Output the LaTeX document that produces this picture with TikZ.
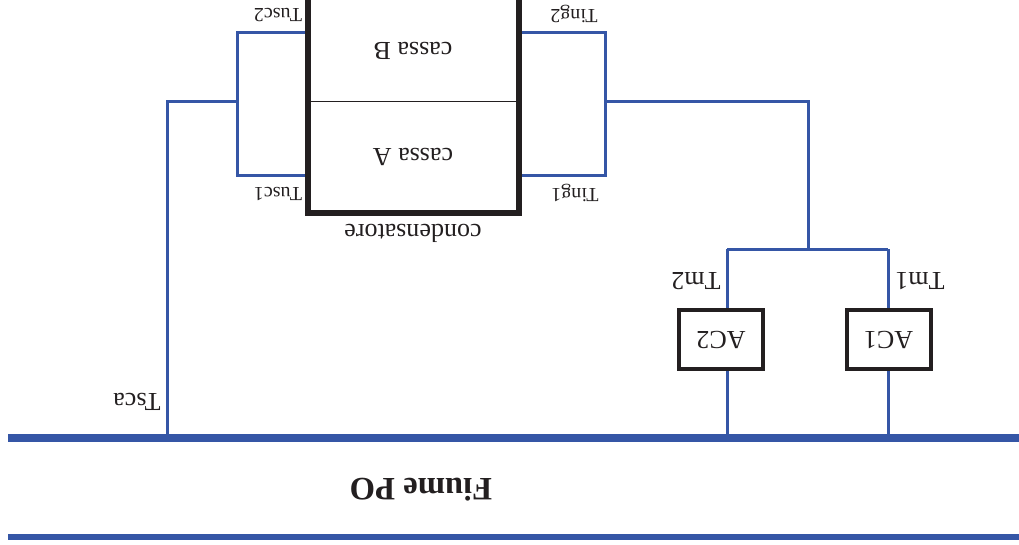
\documentclass[tikz,border=0pt]{standalone}
\usepackage{fontspec}
\setmainfont{Liberation Serif}
\newcommand{\updown}[1]{\rotatebox{180}{#1}}
\definecolor{pipeblue}{RGB}{53,86,166}
\definecolor{inkblack}{RGB}{35,31,32}
\tikzset{
  pipe/.style={draw=pipeblue, line width=2.25pt},
  river/.style={draw=pipeblue},
  lbl/.style={inner sep=0pt, anchor=base, text=inkblack},
  small/.style={lbl, font=\fontsize{15}{15}\selectfont},
  big/.style={lbl, font=\fontsize{19.5}{19.5}\selectfont},
  acbox/.style={draw=inkblack, line width=3pt, inner sep=0pt, minimum width=63pt, minimum height=44.25pt, font=\fontsize{19.5}{19.5}\selectfont, text=inkblack},
}
\begin{document}
\begin{tikzpicture}[x=0.75pt, y=-0.75pt]
\useasboundingbox (0,0) rectangle (1019,545);
% river
\coordinate (rtl) at (8,438);
\coordinate (rtr) at (1019,438);
\coordinate (rbl) at (8,537);
\coordinate (rbr) at (1019,537);
\draw[river, line width=6pt] (rtl) -- (rtr);
\draw[river, line width=4.5pt] (rbl) -- (rbr);
\node[lbl, font=\fontsize{24.5}{24.5}\selectfont\bfseries] (fiume) at (421,478) {\updown{Fiume PO}};
% condenser
\node[draw=inkblack, line width=4.5pt, minimum width=158.25pt, minimum height=174pt, inner sep=0pt] (cond) at (413.5,97) {};
\coordinate (divl) at (308,102);
\coordinate (divr) at (519,102);
\draw[draw=inkblack, line width=0.75pt] (divl) -- (divr);
\node[big] (cassaB) at (413,43) {\updown{cassa B}};
\node[big] (cassaA) at (413,149) {\updown{cassa A}};
\node[big] (condlbl) at (413,224) {\updown{condensatore}};
% left loop
\coordinate (lt) at (237,32.5);
\coordinate (lb) at (237,176);
\coordinate (jl) at (237,102);
\coordinate (tsca) at (167,102);
\coordinate (tscab) at (167,434);
\draw[pipe] (cond.west |- lt) -- (lt) -- (lb) -- (cond.west |- lb);
\draw[pipe] (jl) -- (tsca) -- (tscab);
% right loop
\coordinate (rt) at (605,32.5);
\coordinate (rb) at (605,176);
\coordinate (jr) at (605,102);
\coordinate (jm) at (808,102);
\coordinate (jd) at (808,249);
\coordinate (h2) at (727,249);
\coordinate (h1) at (888,249);
\draw[pipe] (cond.east |- rt) -- (rt) -- (rb) -- (cond.east |- rb);
\draw[pipe] (jr) -- (jm) -- (jd);
\draw[pipe] (h2) -- (h1);
% AC units
\node[acbox] (ac2) at (721,339.5) {\updown{AC2}};
\node[acbox] (ac1) at (888.5,339.5) {\updown{AC1}};
\coordinate (ac2b) at (727,434);
\coordinate (ac1b) at (888,434);
\draw[pipe] (h2) -- (h2 |- ac2.north);
\draw[pipe] (h1) -- (h1 |- ac1.north);
\draw[pipe] (h2 |- ac2.south) -- (ac2b);
\draw[pipe] (h1 |- ac1.south) -- (ac1b);
% labels
\node[small] (tusc2) at (278,8.5) {\updown{Tusc2}};
\node[small] (tusc1) at (278,187.5) {\updown{Tusc1}};
\node[small] (ting2) at (574,9.5) {\updown{Ting2}};
\node[small] (ting1) at (575,189) {\updown{Ting1}};
\node[big] (tm2) at (696,272) {\updown{Tm2}};
\node[big] (tm1) at (920,272) {\updown{Tm1}};
\node[big] (tscalbl) at (137,393) {\updown{Tsca}};
\end{tikzpicture}
\end{document}
